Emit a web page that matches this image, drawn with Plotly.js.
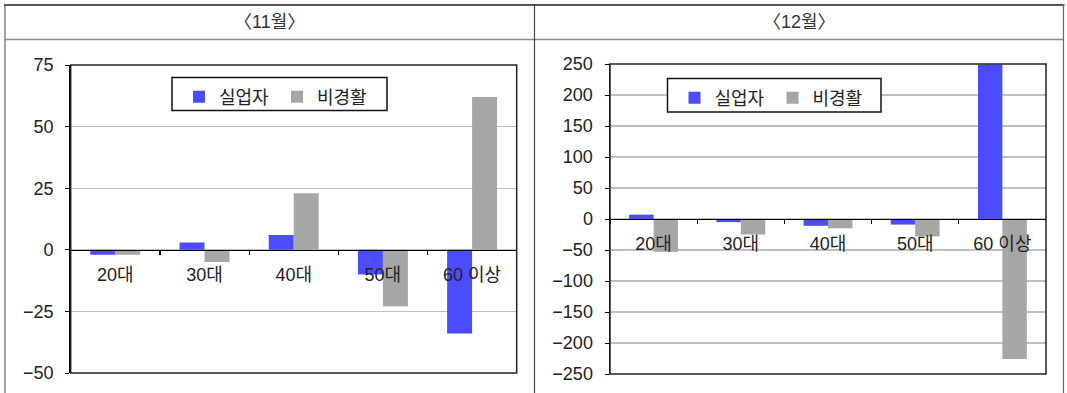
<!DOCTYPE html>
<html>
<head>
<meta charset="utf-8">
<script src="https://cdn.plot.ly/plotly-3.0.1.min.js"></script>
<style>
  html, body { margin: 0; padding: 0; background: #fff; }
  #chart { width: 1067px; height: 393px; }
</style>
</head>
<body>
<div id="chart"></div>
<script>
// Age groups on the category axis
const ageGroups = ['20대', '30대', '40대', '50대', '60 이상'];

// 11월: change by age group
const novUnemployed = [-2, 3, 6, -10, -34];
const novInactive = [-2, -5, 23, -23, 62];

// 12월: change by age group
const decUnemployed = [7, -5, -11, -9, 249];
const decInactive = [-53, -25, -15, -28, -226];

const seriesNames = ['실업자', '비경활'];
const panelTitles = ['〈11월〉', '〈12월〉'];

const W = 1067, H = 393;
const fx = v => v / W;          // pixel x -> paper fraction
const fy = v => 1 - v / H;      // pixel y -> paper fraction

const BLUE = '#4B4BFF';
const GRAY = '#A6A6A6';
const FONT = '"Liberation Sans", Arial, "Noto Sans CJK KR", sans-serif';
const TEXT = '#222';

// Panel geometry (pixels)
const leftDom = { x: [70.7, 516.7], y: [373, 65], range: [-50, 75], dtick: 25, legendBox: [172, 77.5, 387, 110.5] };
const rightDom = { x: [610, 1046], y: [374, 64], range: [-250, 250], dtick: 50, legendBox: [667.5, 78.5, 881, 112] };

// place the category axis on the zero line of its value axis
function zeroPosition(d) {
  const y0 = fy(d.y[0]), y1 = fy(d.y[1]);
  return y0 + (0 - d.range[0]) / (d.range[1] - d.range[0]) * (y1 - y0);
}

function xAxis(d) {
  return {
    domain: [fx(d.x[0]), fx(d.x[1])],
    anchor: 'free',
    position: zeroPosition(d),
    showline: true, linecolor: '#000', linewidth: 1.2,
    ticks: 'outside', ticklen: 4, tickcolor: '#000', tickwidth: 1.2,
    tickson: 'boundaries',
    ticklabelstandoff: 8,
    showgrid: false, zeroline: false,
    tickfont: { family: FONT, size: 18, color: TEXT },
    fixedrange: true
  };
}

function yAxis(d, xName) {
  return {
    domain: [fy(d.y[0]), fy(d.y[1])],
    anchor: xName,
    range: d.range,
    dtick: d.dtick,
    tick0: 0,
    showline: true, linecolor: '#000', linewidth: 1.5,
    ticks: 'outside', ticklen: 4, tickcolor: '#000',
    ticklabelstandoff: 8,
    showgrid: true, gridcolor: '#C0C0C0', gridwidth: 1.3,
    zeroline: false,
    tickfont: { family: FONT, size: 18, color: TEXT },
    fixedrange: true
  };
}

const traces = [
  { type: 'bar', x: ageGroups, y: novUnemployed, name: seriesNames[0], xaxis: 'x', yaxis: 'y', legend: 'legend', marker: { color: BLUE } },
  { type: 'bar', x: ageGroups, y: novInactive, name: seriesNames[1], xaxis: 'x', yaxis: 'y', legend: 'legend', marker: { color: GRAY } },
  { type: 'bar', x: ageGroups, y: decUnemployed, name: seriesNames[0], xaxis: 'x2', yaxis: 'y2', legend: 'legend2', marker: { color: BLUE } },
  { type: 'bar', x: ageGroups, y: decInactive, name: seriesNames[1], xaxis: 'x2', yaxis: 'y2', legend: 'legend2', marker: { color: GRAY } }
];

// legend entries sit inside a framed white box drawn as a shape
function legendIn(box) {
  return {
    x: fx(box[0] + 7), y: fy(box[1] + 1), xanchor: 'left', yanchor: 'top',
    orientation: 'h',
    bgcolor: 'rgba(0,0,0,0)', borderwidth: 0,
    font: { family: FONT, size: 18, color: TEXT },
    itemwidth: 30,
    entrywidth: 53
  };
}

function legendFrame(box) {
  return {
    type: 'rect', xref: 'paper', yref: 'paper',
    x0: fx(box[0]), x1: fx(box[2]), y0: fy(box[1]), y1: fy(box[3]),
    fillcolor: '#fff', line: { color: '#111', width: 1.5 }, layer: 'above'
  };
}

// table rules around the two panels
const lineStyle = (c, w) => ({ color: c, width: w });
const shapes = [
  { type: 'line', xref: 'paper', yref: 'paper', x0: fx(4), x1: fx(1064.5), y0: fy(5), y1: fy(5), line: lineStyle('#555', 2) },
  { type: 'line', xref: 'paper', yref: 'paper', x0: fx(5), x1: fx(1063.5), y0: fy(39.5), y1: fy(39.5), line: lineStyle('#8a8a8a', 1.5) },
  { type: 'line', xref: 'paper', yref: 'paper', x0: fx(5), x1: fx(5), y0: fy(4), y1: 0, line: lineStyle('#666', 1.2) },
  { type: 'line', xref: 'paper', yref: 'paper', x0: fx(534.5), x1: fx(534.5), y0: fy(4), y1: 0, line: lineStyle('#444', 1.2) },
  { type: 'line', xref: 'paper', yref: 'paper', x0: fx(1063.5), x1: fx(1063.5), y0: fy(4), y1: 0, line: lineStyle('#666', 1.2) },
  // plot-area frames
  { type: 'rect', xref: 'x domain', yref: 'y domain', x0: 0, x1: 1, y0: 0, y1: 1, line: lineStyle('#222', 1.5), layer: 'above' },
  { type: 'rect', xref: 'x2 domain', yref: 'y2 domain', x0: 0, x1: 1, y0: 0, y1: 1, line: lineStyle('#222', 1.5), layer: 'above' },
  legendFrame(leftDom.legendBox),
  legendFrame(rightDom.legendBox)
];

const annotations = [
  { xref: 'paper', yref: 'paper', x: fx(269.5), y: fy(22), text: panelTitles[0], showarrow: false, xanchor: 'center', yanchor: 'middle', font: { family: FONT, size: 18, color: '#333' } },
  { xref: 'paper', yref: 'paper', x: fx(799), y: fy(22), text: panelTitles[1], showarrow: false, xanchor: 'center', yanchor: 'middle', font: { family: FONT, size: 18, color: '#333' } }
];

const layout = {
  width: W, height: H,
  margin: { l: 0, r: 0, t: 0, b: 0, pad: 0 },
  paper_bgcolor: '#fff', plot_bgcolor: '#fff',
  barmode: 'group', bargap: 0.44, bargroupgap: 0,
  showlegend: true,
  xaxis: xAxis(leftDom),
  yaxis: yAxis(leftDom, 'x'),
  xaxis2: xAxis(rightDom),
  yaxis2: yAxis(rightDom, 'x2'),
  legend: legendIn(leftDom.legendBox),
  legend2: legendIn(rightDom.legendBox),
  shapes: shapes,
  annotations: annotations,
  font: { family: FONT }
};

Plotly.newPlot('chart', traces, layout, { displayModeBar: false, staticPlot: true });
</script>
</body>
</html>
